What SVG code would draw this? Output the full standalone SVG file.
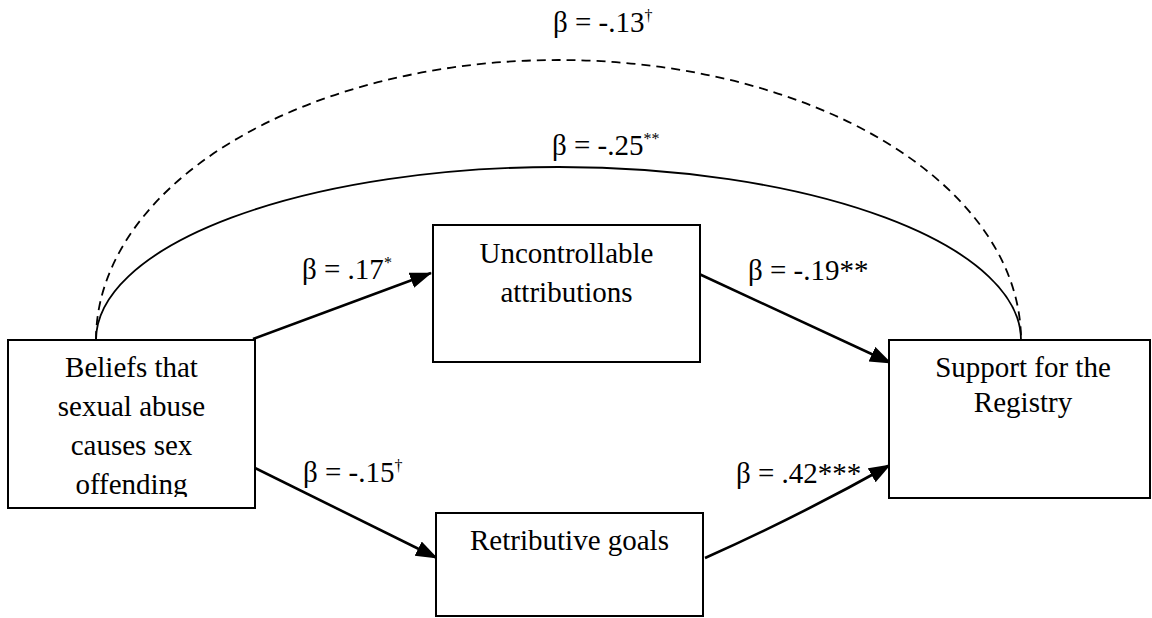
<svg xmlns="http://www.w3.org/2000/svg" width="1152" height="618" viewBox="0 0 1152 618">
<style>
text{font-family:"Liberation Serif",Tinos,"Times New Roman","DejaVu Serif",serif;font-size:29px;fill:#000}
.box{fill:#fff;stroke:#000;stroke-width:2}
.lbl{text-anchor:middle}
.arr{fill:none;stroke:#000;stroke-width:2.6}
.arc{fill:none;stroke:#000;stroke-width:1.8}
.dash{stroke-dasharray:9 6}
.sup{font-size:16px}
</style>
<defs>
<marker id="ah" markerUnits="userSpaceOnUse" markerWidth="24" markerHeight="18" refX="21" refY="8" orient="auto">
<path d="M0,0 L22,8 L0,16 Z" fill="#000"/>
</marker>
<clipPath id="clipL"><rect x="8" y="340" width="247" height="157"/></clipPath>
</defs>
<g id="connectors">
<path class="arc dash" d="M96,340 A462.5,280 0 0 1 1021,340"/>
<path class="arc" d="M96,340 A462.5,173 0 0 1 1021,340"/>
<line class="arr" x1="253" y1="339" x2="431" y2="273" marker-end="url(#ah)"/>
<line class="arr" x1="697" y1="273" x2="891" y2="363" marker-end="url(#ah)"/>
<line class="arr" x1="249" y1="465" x2="437" y2="558" marker-end="url(#ah)"/>
<path class="arr" d="M705,558 Q799,516 890,465" marker-end="url(#ah)"/>
</g>
<g id="edge-labels">
<text x="553" y="32">β = -.13<tspan class="sup" dy="-11">†</tspan></text>
<text x="552" y="155">β = -.25<tspan class="sup" dy="-11">**</tspan></text>
<text x="302" y="279">β = .17<tspan class="sup" dy="-11">*</tspan></text>
<text x="748" y="280">β = -.19**</text>
<text x="303" y="482">β = -.15<tspan class="sup" dy="-11">†</tspan></text>
<text x="736" y="483">β = .42***</text>
</g>
<g id="node-beliefs">
<rect class="box" x="8" y="340" width="247" height="168"/>
<g clip-path="url(#clipL)">
<text class="lbl" x="131.5" y="377">Beliefs that</text>
<text class="lbl" x="131.5" y="416">sexual abuse</text>
<text class="lbl" x="131.5" y="455">causes sex</text>
<text class="lbl" x="131.5" y="494">offending</text>
</g>
</g>
<g id="node-uncontrollable">
<rect class="box" x="433" y="225" width="267" height="137"/>
<text class="lbl" x="566.5" y="263">Uncontrollable</text>
<text class="lbl" x="566.5" y="302">attributions</text>
</g>
<g id="node-retributive">
<rect class="box" x="436" y="513" width="267" height="103"/>
<text class="lbl" x="569.5" y="550">Retributive goals</text>
</g>
<g id="node-support">
<rect class="box" x="889" y="340" width="261" height="158"/>
<text class="lbl" x="1023" y="377">Support for the</text>
<text class="lbl" x="1023" y="412">Registry</text>
</g>
</svg>
